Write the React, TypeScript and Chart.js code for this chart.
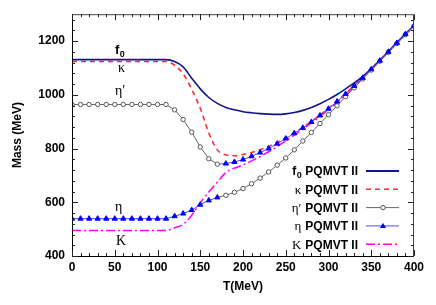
import React, { useEffect, useRef } from 'react';
import { Chart, registerables } from 'chart.js';

Chart.register(...registerables);

// ---------------- data ----------------
const temperatures = [
  0, 10, 20, 30, 40, 50, 60, 70, 80, 90, 100, 110, 120, 130, 140, 150, 160, 170, 180, 190, 200,
  210, 220, 230, 240, 250, 260, 270, 280, 290, 300, 310, 320, 330, 340, 350, 360, 370, 380, 390, 400,
];

const f0Mass = [
  1131, 1131, 1131, 1131, 1131, 1131, 1131, 1131, 1131, 1131, 1131, 1131,
  1124, 1104, 1062, 1022, 990, 968, 953, 944, 937, 933, 930, 928, 927, 929, 934, 942, 953, 967,
  983, 1001, 1022, 1044, 1069, 1097, 1128, 1161, 1194, 1226, 1258,
];

const kappaMass = [
  1124, 1124, 1124, 1124, 1124, 1124, 1124, 1124, 1124, 1124, 1124, 1124,
  1110, 1078, 1020, 950, 858, 795, 776, 773, 778, 785, 795, 808, 823, 840, 859, 879, 901, 925,
  950, 977, 1005, 1035, 1065, 1097, 1128, 1161, 1194, 1226, 1257,
];

// open-circle marker series
const etaPrimeMass = [
  964, 964, 964, 964, 964, 964, 964, 964, 964, 964, 964, 964,
  944, 908, 861, 806, 762, 742,
  626, 637, 651, 669, 690, 713, 738, 765, 795, 828, 860, 893, 926, 959, 993, 1026, 1059, 1092,
  1125, 1158, 1191, 1224, 1256,
];

// filled-triangle marker series
const etaMass = [
  539, 539, 539, 539, 539, 539, 539, 539, 539, 539, 539, 539,
  548, 558, 571, 591, 607, 618,
  744, 750, 759, 771, 785, 800, 818, 837, 857, 877, 899, 923, 948, 975, 1003, 1033, 1063, 1095,
  1127, 1160, 1193, 1226, 1257,
];

const kaonMass = [
  495, 495, 495, 495, 495, 495, 495, 495, 495, 495, 495, 495,
  505, 518, 552, 598, 638, 675,
  711, 727, 739, 754, 770, 788, 807, 829, 850, 872, 895, 920, 945, 972, 1001, 1031, 1062, 1094,
  1126, 1159, 1192, 1225, 1257,
];

const xTickValues = [0, 50, 100, 150, 200, 250, 300, 350, 400];
const yTickValues = [400, 600, 800, 1000, 1200];

const legendSymbols = ['f0', 'κ', 'η′', 'η', 'K'];
const legendSuffix = 'PQMVT II';

// index of last point before the eta / eta' branches exchange
const SWAP = 17;

// ---------------- styles ----------------
const SANS = '"Liberation Sans", Arial, Helvetica, sans-serif';
const SERIF = '"Liberation Serif", "Times New Roman", serif';
const NAVY = '#14148c';
const RED = '#ff2a2a';
const GRAY = '#666666';
const BLUE_LINE = '#4a4aff';
const BLUE = '#0000ff';
const MAGENTA = '#ff00ff';

const pts = (arr: number[]) => temperatures.map((t, i) => ({ x: t, y: arr[i] }));
const upperBranch = temperatures.map((t, i) => ({ x: t, y: i <= SWAP ? etaPrimeMass[i] : etaMass[i] }));
const lowerBranch = temperatures.map((t, i) => ({ x: t, y: i <= SWAP ? etaMass[i] : etaPrimeMass[i] }));

type Sym = { main: string; sub?: string; serif: boolean };
const symDefs: Sym[] = legendSymbols.map((s) =>
  s === 'f0' ? { main: 'f', sub: '0', serif: false } : { main: s, serif: true }
);

function symWidth(ctx: CanvasRenderingContext2D, s: Sym, size: number, serifSize: number) {
  ctx.font = s.serif ? `${serifSize}px ${SERIF}` : `bold ${size}px ${SANS}`;
  let w = ctx.measureText(s.main).width;
  if (s.sub) {
    ctx.font = `bold ${Math.round(size * 0.72)}px ${SANS}`;
    w += ctx.measureText(s.sub).width;
  }
  return w;
}

function drawSym(ctx: CanvasRenderingContext2D, s: Sym, left: number, baseline: number, size: number, serifSize: number) {
  ctx.textAlign = 'left';
  ctx.textBaseline = 'alphabetic';
  ctx.fillStyle = '#000';
  ctx.font = s.serif ? `${serifSize}px ${SERIF}` : `bold ${size}px ${SANS}`;
  ctx.fillText(s.main, left, baseline);
  if (s.sub) {
    const w = ctx.measureText(s.main).width;
    ctx.font = `bold ${Math.round(size * 0.72)}px ${SANS}`;
    ctx.fillText(s.sub, left + w + 0.5, baseline + size * 0.22);
  }
}

const decorPlugin = {
  id: 'decor',
  afterDraw(chart: any) {
    const { ctx, chartArea: a, scales } = chart;
    const xs = scales.x;
    const ys = scales.y;
    ctx.save();
    // frame
    ctx.lineWidth = 1;
    ctx.strokeStyle = '#000';
    ctx.beginPath();
    ctx.moveTo(a.left + 0.5, a.top);
    ctx.lineTo(a.left + 0.5, a.bottom + 0.5);
    ctx.lineTo(a.right, a.bottom + 0.5);
    ctx.stroke();
    ctx.strokeStyle = '#444';
    ctx.beginPath();
    ctx.moveTo(a.left, a.top + 0.5);
    ctx.lineTo(a.right - 0.5, a.top + 0.5);
    ctx.lineTo(a.right - 0.5, a.bottom);
    ctx.stroke();

    // ticks (inward, all sides)
    ctx.strokeStyle = '#222';
    ctx.beginPath();
    for (let t = 0; t <= 400; t += 10) {
      const px = Math.round(xs.getPixelForValue(t)) + 0.5;
      const len = t % 50 === 0 ? 6 : 3;
      ctx.moveTo(px, a.bottom);
      ctx.lineTo(px, a.bottom - len);
      ctx.moveTo(px, a.top);
      ctx.lineTo(px, a.top + len);
    }
    for (let m = 400; m < 1300; m += 40) {
      const py = Math.round(ys.getPixelForValue(m)) + 0.5;
      const len = m % 200 === 0 ? 6 : 3;
      ctx.moveTo(a.left, py);
      ctx.lineTo(a.left + len, py);
      ctx.moveTo(a.right, py);
      ctx.lineTo(a.right - len, py);
    }
    ctx.stroke();

    // in-plot labels
    const anchors = [
      { t: 50.3, m: 1153 },
      { t: 53.8, m: 1086 },
      { t: 50.3, m: 999 },
      { t: 50.3, m: 568 },
      { t: 51.5, m: 440 },
    ];
    symDefs.forEach((s, i) => {
      drawSym(ctx, s, xs.getPixelForValue(anchors[i].t), ys.getPixelForValue(anchors[i].m), 13, 14);
    });

    // legend
    const textRight = 358;
    const lineL = 366;
    const lineR = 399;
    ctx.font = `bold 12px ${SANS}`;
    const suffixW = ctx.measureText(legendSuffix).width;
    const styles = [
      { color: NAVY, width: 2.2, dash: [] as number[], marker: '' },
      { color: RED, width: 1.6, dash: [5, 4], marker: '' },
      { color: GRAY, width: 1, dash: [], marker: 'circle' },
      { color: BLUE_LINE, width: 1, dash: [], marker: 'triangle' },
      { color: MAGENTA, width: 1.5, dash: [9, 3, 2, 3], marker: '' },
    ];
    symDefs.forEach((s, i) => {
      const cy = 171 + i * 18.3;
      const base = cy + 4.3;
      ctx.font = `bold 12px ${SANS}`;
      ctx.fillStyle = '#000';
      ctx.textAlign = 'right';
      ctx.textBaseline = 'alphabetic';
      ctx.fillText(legendSuffix, textRight, base);
      const sw = symWidth(ctx, s, 12, 13);
      drawSym(ctx, s, textRight - suffixW - 4 - sw, base, 12, 13);
      const st = styles[i];
      ctx.strokeStyle = st.color;
      ctx.lineWidth = st.width;
      ctx.setLineDash(st.dash);
      ctx.beginPath();
      ctx.moveTo(lineL, cy);
      ctx.lineTo(lineR, cy);
      ctx.stroke();
      ctx.setLineDash([]);
      const mx = (lineL + lineR) / 2 + 0.5;
      if (st.marker === 'circle') {
        ctx.fillStyle = '#fff';
        ctx.strokeStyle = '#555';
        ctx.lineWidth = 1;
        ctx.beginPath();
        ctx.arc(mx, cy, 2.2, 0, Math.PI * 2);
        ctx.fill();
        ctx.stroke();
      } else if (st.marker === 'triangle') {
        ctx.fillStyle = BLUE;
        ctx.beginPath();
        ctx.moveTo(mx, cy - 3.2);
        ctx.lineTo(mx + 3, cy + 2);
        ctx.lineTo(mx - 3, cy + 2);
        ctx.closePath();
        ctx.fill();
      }
    });
    ctx.restore();
  },
};

const isCircleUpper = (i: number) => i <= SWAP;
const isCircleLower = (i: number) => i > SWAP;

function branchDataset(data: any[], circleAt: (i: number) => boolean, grayFromSegment: (i: number) => boolean) {
  return {
    data,
    borderWidth: 1,
    tension: 0,
    segment: {
      borderColor: (c: any) => (grayFromSegment(c.p0DataIndex) ? GRAY : BLUE_LINE),
    },
    borderColor: GRAY,
    pointStyle: (c: any) => (circleAt(c.dataIndex) ? 'circle' : 'triangle'),
    pointRadius: (c: any) => (circleAt(c.dataIndex) ? 2.2 : 3),
    pointBackgroundColor: (c: any) => (circleAt(c.dataIndex) ? '#ffffff' : BLUE),
    pointBorderColor: (c: any) => (circleAt(c.dataIndex) ? '#555555' : BLUE),
    pointBorderWidth: 1,
    pointHoverRadius: 0,
  };
}

export default function App() {
  const ref = useRef<HTMLCanvasElement>(null);
  useEffect(() => {
    const tickFont = { family: SANS, size: 12, weight: 'bold' as const };
    const chart = new Chart(ref.current!, {
      type: 'line',
      data: {
        datasets: [
          branchDataset(upperBranch, isCircleUpper, (i) => i < SWAP) as any,
          branchDataset(lowerBranch, isCircleLower, (i) => i >= SWAP) as any,
          {
            data: pts(f0Mass),
            borderColor: NAVY,
            borderWidth: 1.6,
            pointRadius: 0,
            cubicInterpolationMode: 'monotone',
          },
          {
            data: pts(kappaMass),
            borderColor: RED,
            borderWidth: 1.6,
            borderDash: [5, 4],
            pointRadius: 0,
            cubicInterpolationMode: 'monotone',
          },
          {
            data: pts(kaonMass),
            borderColor: MAGENTA,
            borderWidth: 1.5,
            borderDash: [9, 3, 2, 3],
            pointRadius: 0,
            cubicInterpolationMode: 'monotone',
          },
        ],
      },
      options: {
        responsive: false,
        animation: false,
        devicePixelRatio: 1,
        layout: { padding: { top: 12, right: 22, left: 0, bottom: 0 } },
        plugins: { legend: { display: false }, tooltip: { enabled: false } },
        events: [],
        scales: {
          x: {
            type: 'linear',
            min: 0,
            max: 400,
            afterBuildTicks: (s: any) => {
              s.ticks = xTickValues.map((v) => ({ value: v }));
            },
            afterFit: (s: any) => {
              s.height = 49;
            },
            grid: { display: false, drawTicks: false },
            border: { display: false },
            ticks: {
              font: tickFont,
              color: '#000',
              padding: 4,
              maxRotation: 0,
              autoSkip: false,
              callback: (v: any) => String(v),
            },
            title: {
              display: true,
              text: 'T(MeV)',
              font: tickFont,
              color: '#000',
              padding: { top: 0, bottom: 11 },
            },
          },
          y: {
            type: 'linear',
            min: 400,
            max: 1300,
            afterBuildTicks: (s: any) => {
              s.ticks = yTickValues.map((v) => ({ value: v }));
            },
            afterFit: (s: any) => {
              s.width = 72;
            },
            grid: { display: false, drawTicks: false },
            border: { display: false },
            ticks: {
              font: tickFont,
              color: '#000',
              padding: 7,
              autoSkip: false,
              callback: (v: any) => String(v),
            },
            title: {
              display: true,
              text: 'Mass (MeV)',
              font: tickFont,
              color: '#000',
              padding: { top: 10, bottom: 0 },
            },
          },
        },
      },
      plugins: [decorPlugin],
    } as any);
    return () => chart.destroy();
  }, []);
  return (
    <div style={{ position: 'fixed', left: 0, top: 0, width: 436, height: 305, background: '#fff' }}>
      <canvas ref={ref} width={436} height={305} style={{ width: 436, height: 305, display: 'block' }} />
    </div>
  );
}
